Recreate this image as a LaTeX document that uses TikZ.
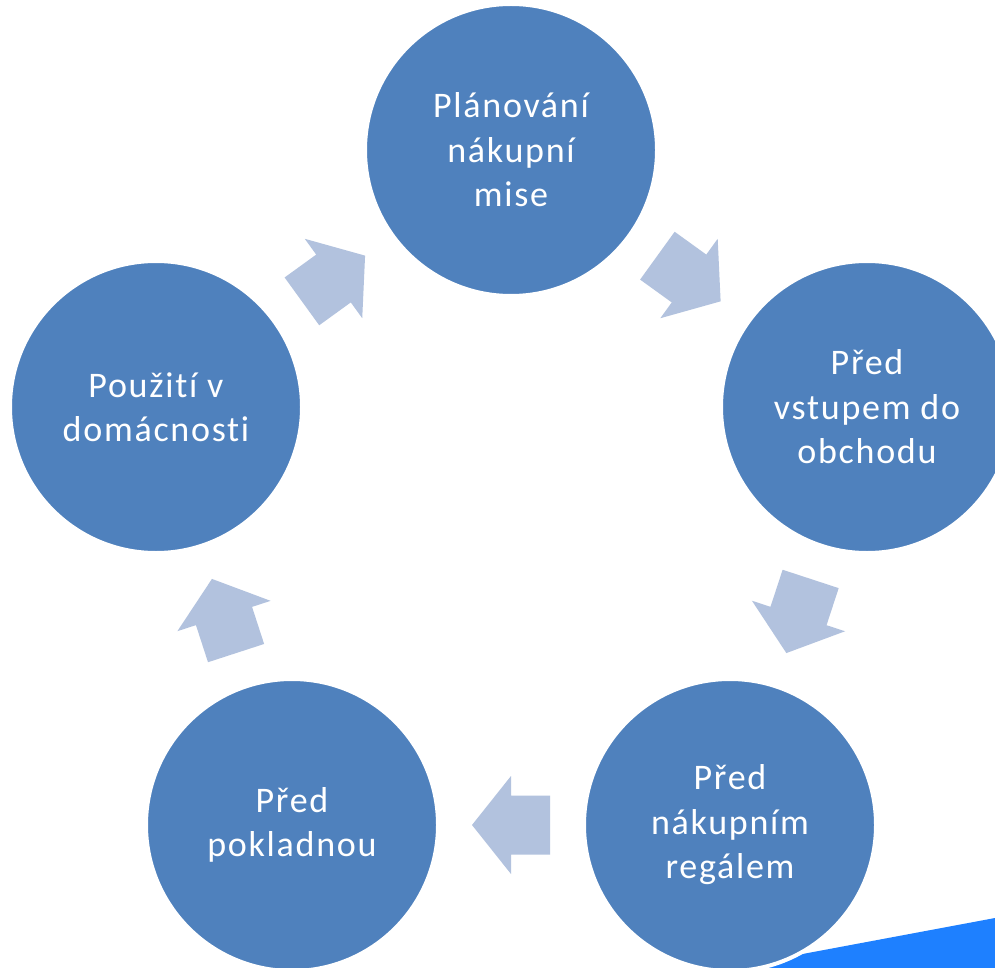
\documentclass[tikz,border=0pt]{standalone}
\usepackage{fontspec}
\setmainfont[Ligatures=NoCommon,LetterSpace=4.8]{Carlito}
\usetikzlibrary{calc}
\definecolor{circblue}{HTML}{4F81BD}
\definecolor{arrowblue}{HTML}{B2C2DE}
\definecolor{wedgeblue}{HTML}{1E80FF}
\tikzset{
  circ/.style={circle, fill=circblue, draw=white, line width=4pt,
    minimum size=292pt, inner sep=0pt, text=white, align=center,
    font=\fontsize{36}{44.5}\selectfont},
  arrowfill/.style={fill=arrowblue}
}
\newcommand\cycarrow[2]{%
  \fill[arrowfill] let \p1=(#1.center), \p2=(#2.center),
    \n1={atan2(\y2-\y1,\x2-\x1)}, \n2={\n1+90},
    \p3=($(\p1)!0.5!(\p2)$) in
    ($(\p3)+(\n1:-39pt)+(\n2:29.5pt)$) --
    ($(\p3)+(\n2:29.5pt)$) --
    ($(\p3)+(\n2:49pt)$) --
    ($(\p3)+(\n1:39pt)$) --
    ($(\p3)+(\n2:-49pt)$) --
    ($(\p3)+(\n2:-29.5pt)$) --
    ($(\p3)+(\n1:-39pt)+(\n2:-29.5pt)$) -- cycle;}
\begin{document}
\begin{tikzpicture}[x=1pt,y=-1pt]
\useasboundingbox (0,0) rectangle (995,968);
\clip (0,0) rectangle (995,968);
\fill[white] (0,0) rectangle (995,968);
% blue wedge at bottom right
\fill[wedgeblue] (740,968) -- (740,965.7) -- (995,918) -- (995,968) -- cycle;
% circles
\node[circ] (plan) at (511,150) {Plánování\\nákupní\\mise};
\node[circ] (vstup) at (867,407) {Před\\vstupem do\\obchodu};
\node[circ] (regal) at (730,825) {Před\\nákupním\\regálem};
\node[circ] (pokl) at (292,825) {Před\\pokladnou};
\node[circ] (doma) at (156,407) {Použití v\\domácnosti};
% arrows
\cycarrow{plan}{vstup}
\cycarrow{vstup}{regal}
\cycarrow{regal}{pokl}
\cycarrow{pokl}{doma}
\cycarrow{doma}{plan}
\end{tikzpicture}
\end{document}
